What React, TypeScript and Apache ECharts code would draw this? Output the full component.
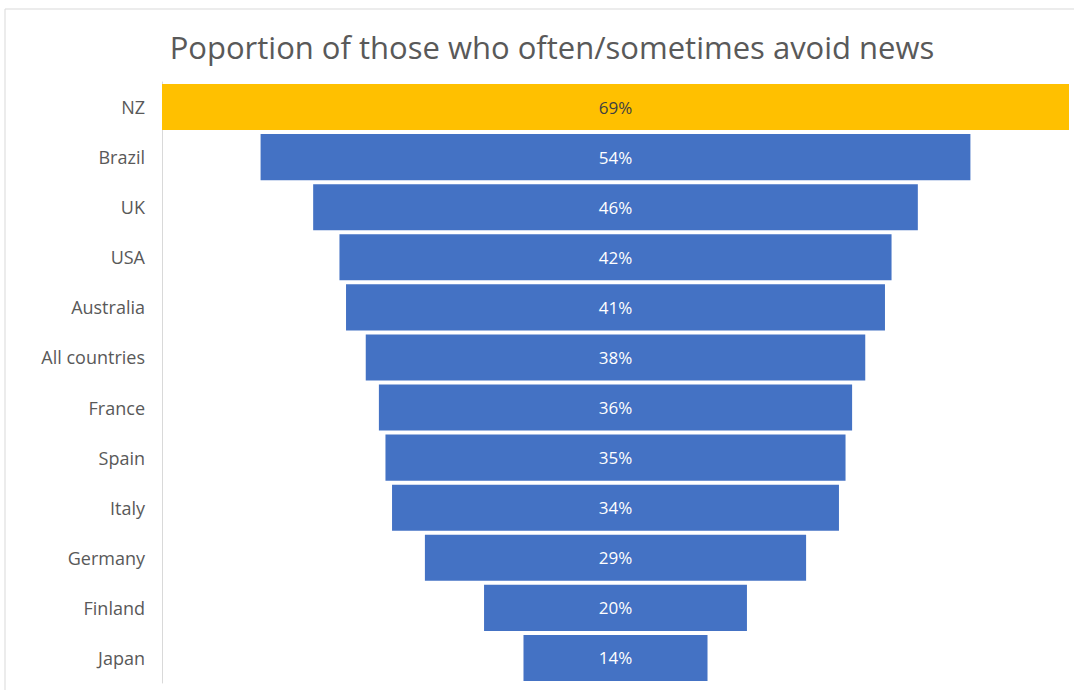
import React, { useEffect, useRef } from "react";
import * as echarts from "echarts";

const countries = ["NZ", "Brazil", "UK", "USA", "Australia", "All countries", "France", "Spain", "Italy", "Germany", "Finland", "Japan"];
const shares = [69, 54, 46, 42, 41, 38, 36, 35, 34, 29, 20, 14];
const highlight = "NZ";
const titleText = "Poportion of those who often/sometimes avoid news";

export default function App() {
  const ref = useRef<HTMLDivElement>(null);
  useEffect(() => {
    if (!ref.current) return;
    const chart = echarts.init(ref.current, undefined, { renderer: "svg" });
    const maxV = Math.max(...shares);
    const offsets = shares.map((v) => (maxV - v) / 2);
    const font = "'Open Sans', 'Noto Sans', sans-serif";
    chart.setOption({
      animation: false,
      backgroundColor: "#ffffff",
      title: {
        text: titleText,
        left: 547,
        textAlign: "center",
        top: 26,
        textStyle: { fontFamily: font, fontSize: 31, fontWeight: "normal", color: "#595959" },
      },
      graphic: [
        {
          type: "rect",
          shape: { x: 5, y: 9, width: 1100, height: 720 },
          style: { fill: "none", stroke: "#d9d9d9", lineWidth: 1 },
          silent: true,
        },
      ],
      grid: { left: 162, right: 5, top: 82, bottom: 7, containLabel: false },
      xAxis: { type: "value", min: 0, max: maxV, show: false },
      yAxis: {
        type: "category",
        data: countries,
        inverse: true,
        axisLine: { show: true, lineStyle: { color: "#d9d9d9", width: 1 } },
        axisTick: { show: false },
        axisLabel: { color: "#595959", fontFamily: font, fontSize: 18, margin: 17 },
      },
      series: [
        {
          type: "bar",
          stack: "f",
          data: offsets,
          itemStyle: { color: "transparent" },
          barCategoryGap: "8%",
          silent: true,
        },
        {
          type: "bar",
          stack: "f",
          barCategoryGap: "8%",
          data: shares.map((v, i) => ({
            value: v,
            itemStyle: { color: countries[i] === highlight ? "#FFC000" : "#4472C4" },
            label: { color: countries[i] === highlight ? "#404040" : "#ffffff" },
          })),
          label: {
            show: true,
            position: "inside",
            formatter: (p: any) => p.value + "%",
            fontFamily: font,
            fontSize: 17,
          },
        },
      ],
    });
    return () => chart.dispose();
  }, []);
  return <div ref={ref} style={{ position: "fixed", left: 0, top: 0, width: 1074, height: 690 }} />;
}
